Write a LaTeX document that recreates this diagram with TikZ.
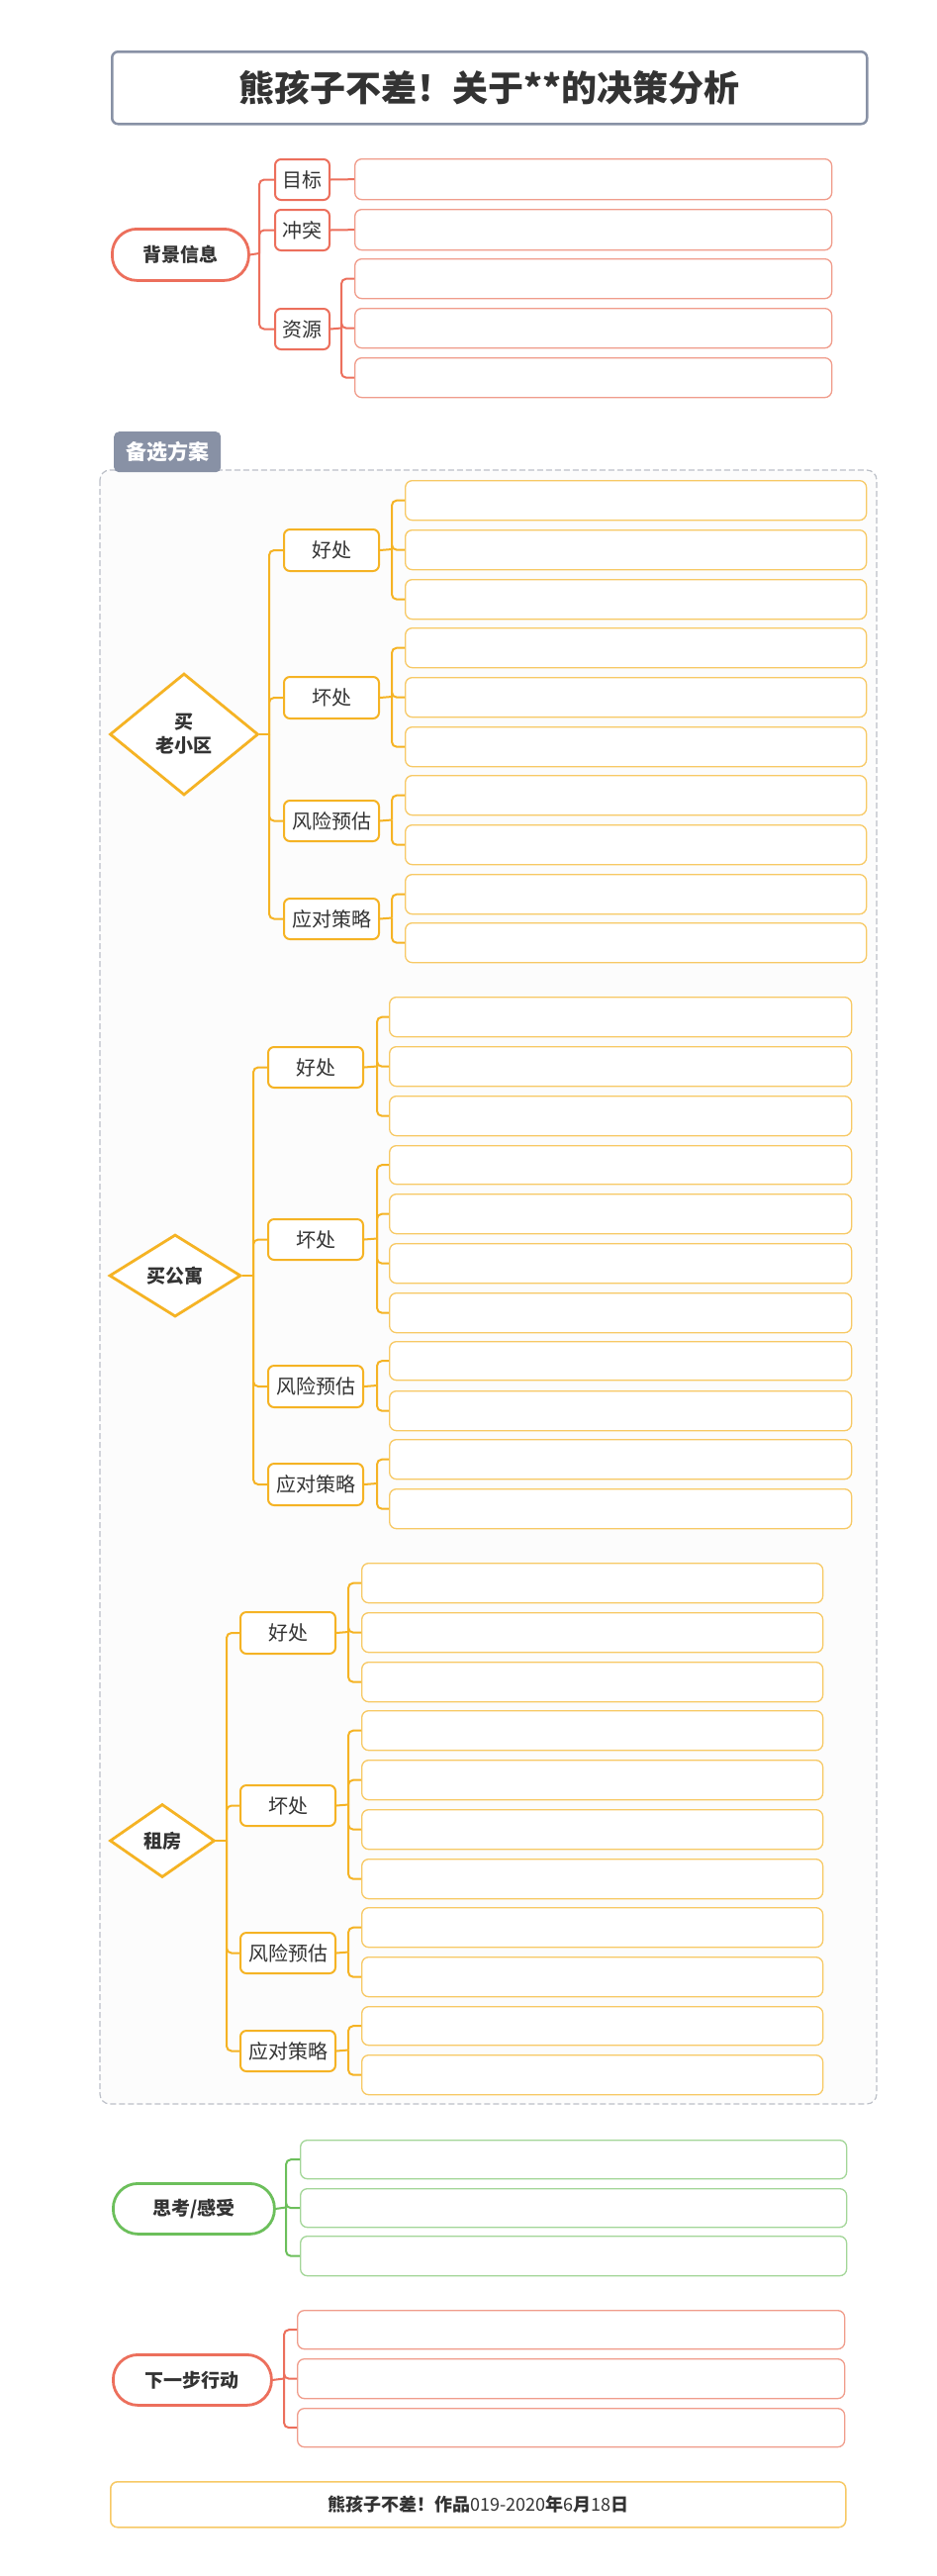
\documentclass[tikz,border=0pt]{standalone}
\usepackage{fontspec}
\setmainfont{Noto Sans CJK SC}
\usetikzlibrary{shapes.geometric}
\definecolor{redM}{HTML}{EC6F5C}
\definecolor{redL}{HTML}{F09C8B}
\definecolor{yelM}{HTML}{F5B324}
\definecolor{yelL}{HTML}{F7C965}
\definecolor{grnM}{HTML}{6CBF5B}
\definecolor{grnL}{HTML}{A3D698}
\definecolor{grayT}{HTML}{8891A5}
\definecolor{txt}{HTML}{333333}
\definecolor{dashc}{HTML}{BCC0C8}
\definecolor{panel}{HTML}{FCFCFC}
\newcommand\bx[7]{\node[#2, anchor=north west, minimum width={#5-#3}, minimum height={#6-#4}] (#1) at (#3,#4) {#7};}
\tikzset{
  base/.style={inner sep=0pt, fill=white, text=txt},
  leafR/.style={base, draw=redL, line width=1.3pt, rounded corners=7pt},
  leafY/.style={base, draw=yelL, line width=1.3pt, rounded corners=7pt},
  leafG/.style={base, draw=grnL, line width=1.3pt, rounded corners=7pt},
  kidR/.style={base, draw=redM, line width=2pt, rounded corners=6pt, font=\fontsize{20}{24}\selectfont},
  kidY/.style={base, draw=yelM, line width=2pt, rounded corners=6pt, font=\fontsize{20}{24}\selectfont},
  mainR/.style={base, draw=redM, line width=2.8pt, rounded corners=25pt, font=\bfseries\fontsize{19}{23}\selectfont},
  mainG/.style={base, draw=grnM, line width=2.8pt, rounded corners=25pt, font=\bfseries\fontsize{19}{23}\selectfont},
  dia/.style={diamond, base, draw=yelM, line width=2.8pt, align=center, font=\bfseries\fontsize{19}{24}\selectfont},
  cR/.style={draw=redM, line width=2pt, rounded corners=5pt},
  cY/.style={draw=yelM, line width=2pt, rounded corners=5pt},
  cG/.style={draw=grnM, line width=2pt, rounded corners=5pt},
}
\begin{document}
\begin{tikzpicture}[x=1pt, y=-1pt]
\useasboundingbox (0,0) rectangle (946,2603);
\fill[white] (0,0) rectangle (946,2603);
% title
\bx{title}{base, draw=grayT, line width=2.5pt, rounded corners=6pt, font=\bfseries\fontsize{36}{40}\selectfont}{112}{51}{875}{124}{熊孩子不差！关于**的决策分析}
% ---------------- background
\bx{bg}{mainR}{112}{230}{250}{282}{背景信息}
\bx{mb}{kidR}{277}{160}{332}{201}{目标}
\bx{ct}{kidR}{277}{211}{332}{252}{冲突}
\bx{zy}{kidR}{277}{311}{332}{352}{资源}
\foreach \n/\a/\b in {b1/160/201,b2/211/252,b3/261/301,b4/311/351,b5/361/401}
  \bx{\n}{leafR}{358}{\a}{840}{\b}{};
\coordinate (bgs) at (262,256);
\coordinate (zys) at (345,331.5);
\draw[cR] (bg.east) -- (bgs);
\foreach \c in {mb,ct,zy} \draw[cR] (bgs) |- (\c.west);
\draw[cR] (mb.east) -- (b1.west);
\draw[cR] (ct.east) -- (b2.west);
\draw[cR] (zy.east) -- (zys);
\foreach \c in {b3,b4,b5} \draw[cR] (zys) |- (\c.west);
% ---------------- alternatives panel
\draw[dashc, fill=panel, line width=1.2pt, dash pattern=on 6pt off 3pt, rounded corners=10pt] (101,475) rectangle (886,2126);
\bx{tab}{inner sep=0pt, fill=grayT, rounded corners=5pt, text=white, font=\bfseries\fontsize{21}{25}\selectfont}{115}{436}{223}{477}{备选方案}
% ---- group 1: 买老小区
\node[dia, minimum width=150pt, minimum height=123pt] (d1) at (186,742) {买\\老小区};
\bx{g1a}{kidY}{286}{534}{382}{576}{好处}
\bx{g1b}{kidY}{286}{683}{382}{725}{坏处}
\bx{g1c}{kidY}{286}{808}{382}{849}{风险预估}
\bx{g1d}{kidY}{286}{907}{382}{948}{应对策略}
\foreach \n/\a/\b in {p1a1/485/525,p1a2/535/575,p1a3/585/625,p1b1/634/674,p1b2/684/724,p1b3/734/774,p1c1/783/823,p1c2/833/873,p1d1/883/923,p1d2/932/972}
  \bx{\n}{leafY}{409}{\a}{875}{\b}{};
\coordinate (s1) at (272,742);
\draw[cY] (d1.east) -- (s1);
\foreach \c in {g1a,g1b,g1c,g1d} \draw[cY] (s1) |- (\c.west);
\coordinate (s1a) at (396,555);
\coordinate (s1b) at (396,704);
\coordinate (s1c) at (396,828.5);
\coordinate (s1d) at (396,927.5);
\draw[cY] (g1a.east) -- (s1a); \draw[cY] (g1b.east) -- (s1b);
\draw[cY] (g1c.east) -- (s1c); \draw[cY] (g1d.east) -- (s1d);
\foreach \c in {p1a1,p1a2,p1a3} \draw[cY] (s1a) |- (\c.west);
\foreach \c in {p1b1,p1b2,p1b3} \draw[cY] (s1b) |- (\c.west);
\foreach \c in {p1c1,p1c2} \draw[cY] (s1c) |- (\c.west);
\foreach \c in {p1d1,p1d2} \draw[cY] (s1d) |- (\c.west);
% ---- group 2: 买公寓
\node[dia, minimum width=133pt, minimum height=83pt] (d2) at (177,1289) {买公寓};
\bx{g2a}{kidY}{270}{1057}{366}{1098}{好处}
\bx{g2b}{kidY}{270}{1231}{366}{1272}{坏处}
\bx{g2c}{kidY}{270}{1379}{366}{1421}{风险预估}
\bx{g2d}{kidY}{270}{1478}{366}{1520}{应对策略}
\foreach \n/\a/\b in {p2a1/1007/1047,p2a2/1057/1097,p2a3/1107/1147,p2b1/1157/1196,p2b2/1206/1246,p2b3/1256/1296,p2b4/1306/1346,p2c1/1355/1394,p2c2/1405/1445,p2d1/1454/1494,p2d2/1504/1544}
  \bx{\n}{leafY}{393}{\a}{860}{\b}{};
\coordinate (s2) at (256,1289);
\draw[cY] (d2.east) -- (s2);
\foreach \c in {g2a,g2b,g2c,g2d} \draw[cY] (s2) |- (\c.west);
\coordinate (s2a) at (381,1077.5);
\coordinate (s2b) at (381,1251.5);
\coordinate (s2c) at (381,1400);
\coordinate (s2d) at (381,1499);
\draw[cY] (g2a.east) -- (s2a); \draw[cY] (g2b.east) -- (s2b);
\draw[cY] (g2c.east) -- (s2c); \draw[cY] (g2d.east) -- (s2d);
\foreach \c in {p2a1,p2a2,p2a3} \draw[cY] (s2a) |- (\c.west);
\foreach \c in {p2b1,p2b2,p2b3,p2b4} \draw[cY] (s2b) |- (\c.west);
\foreach \c in {p2c1,p2c2} \draw[cY] (s2c) |- (\c.west);
\foreach \c in {p2d1,p2d2} \draw[cY] (s2d) |- (\c.west);
% ---- group 3: 租房
\node[dia, minimum width=106pt, minimum height=74pt] (d3) at (164,1860) {租房};
\bx{g3a}{kidY}{242}{1628}{338}{1670}{好处}
\bx{g3b}{kidY}{242}{1803}{338}{1844}{坏处}
\bx{g3c}{kidY}{242}{1952}{338}{1993}{风险预估}
\bx{g3d}{kidY}{242}{2051}{338}{2092}{应对策略}
\foreach \n/\a/\b in {p3a1/1579/1619,p3a2/1629/1669,p3a3/1679/1719,p3b1/1728/1768,p3b2/1778/1818,p3b3/1828/1868,p3b4/1878/1918,p3c1/1927/1967,p3c2/1977/2017,p3d1/2027/2066,p3d2/2076/2116}
  \bx{\n}{leafY}{365}{\a}{831}{\b}{};
\coordinate (s3) at (229,1860);
\draw[cY] (d3.east) -- (s3);
\foreach \c in {g3a,g3b,g3c,g3d} \draw[cY] (s3) |- (\c.west);
\coordinate (s3a) at (352,1649);
\coordinate (s3b) at (352,1823.5);
\coordinate (s3c) at (352,1972.5);
\coordinate (s3d) at (352,2071.5);
\draw[cY] (g3a.east) -- (s3a); \draw[cY] (g3b.east) -- (s3b);
\draw[cY] (g3c.east) -- (s3c); \draw[cY] (g3d.east) -- (s3d);
\foreach \c in {p3a1,p3a2,p3a3} \draw[cY] (s3a) |- (\c.west);
\foreach \c in {p3b1,p3b2,p3b3,p3b4} \draw[cY] (s3b) |- (\c.west);
\foreach \c in {p3c1,p3c2} \draw[cY] (s3c) |- (\c.west);
\foreach \c in {p3d1,p3d2} \draw[cY] (s3d) |- (\c.west);
% ---------------- thoughts
\bx{th}{mainG}{113}{2205}{276}{2256}{思考/感受}
\foreach \n/\a/\b in {t1/2162/2201,t2/2211/2250,t3/2259/2299}
  \bx{\n}{leafG}{303}{\a}{855}{\b}{};
\coordinate (ths) at (289,2230.5);
\draw[cG] (th.east) -- (ths);
\foreach \c in {t1,t2,t3} \draw[cG] (ths) |- (\c.west);
% ---------------- next actions
\bx{nx}{mainR}{113}{2378}{273}{2429}{下一步行动}
\foreach \n/\a/\b in {n1/2334/2373,n2/2383/2423,n3/2433/2472}
  \bx{\n}{leafR}{300}{\a}{853}{\b}{};
\coordinate (nxs) at (287,2403.5);
\draw[cR] (nx.east) -- (nxs);
\foreach \c in {n1,n2,n3} \draw[cR] (nxs) |- (\c.west);
% ---------------- footer
\bx{ft}{base, draw=yelL, line width=1.5pt, rounded corners=7pt, font=\fontsize{18}{20}\selectfont}{111}{2507}{854}{2553}{\textbf{熊孩子不差！作品}019-2020\textbf{年}6\textbf{月}18\textbf{日}\hspace{24pt}}
\end{tikzpicture}
\end{document}
